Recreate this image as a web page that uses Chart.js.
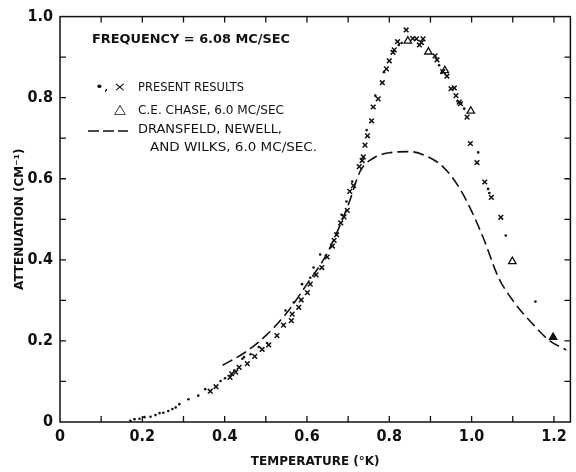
<!DOCTYPE html>
<html>
<head>
<meta charset="utf-8">
<script src="https://cdn.jsdelivr.net/npm/chart.js@4.4.1/dist/chart.umd.min.js"></script>
<style>
  body { margin: 0; background: #fff; }
  canvas { display: block; }
</style>
</head>
<body>
<canvas id="chart" width="576" height="472"></canvas>
<script>
// present results, dots
const dotT = [0.171, 0.181, 0.193, 0.205, 0.220, 0.232, 0.242, 0.251, 0.263, 0.273, 0.281, 0.290, 0.312, 0.336,
  0.353, 0.390, 0.401, 0.424, 0.443, 0.447, 0.463, 0.483, 0.503, 0.548, 0.568, 0.588, 0.608, 0.616, 0.632,
  0.684, 0.696, 0.710, 0.745, 0.766, 0.787, 0.823, 0.830, 0.921, 0.928, 0.966, 0.974, 0.982, 1.016, 1.040,
  1.043, 1.083, 1.155];
const dotA = [0.003, 0.007, 0.008, 0.012, 0.013, 0.017, 0.022, 0.023, 0.027, 0.032, 0.036, 0.044, 0.056, 0.065,
  0.081, 0.101, 0.108, 0.127, 0.156, 0.160, 0.167, 0.185, 0.195, 0.275, 0.295, 0.340, 0.356, 0.381, 0.413,
  0.511, 0.544, 0.593, 0.720, 0.805, 0.863, 0.930, 0.935, 0.880, 0.862, 0.791, 0.786, 0.773, 0.665, 0.575,
  0.565, 0.460, 0.297];

// present results, crosses
const crossT = [0.365, 0.379, 0.413, 0.417, 0.427, 0.435, 0.455, 0.473, 0.491, 0.507, 0.527, 0.543, 0.562, 0.564,
  0.580, 0.586, 0.601, 0.608, 0.622, 0.636, 0.649, 0.662, 0.666, 0.672, 0.682, 0.690, 0.698, 0.704, 0.713,
  0.727, 0.734, 0.737, 0.741, 0.747, 0.757, 0.761, 0.773, 0.783, 0.793, 0.800, 0.809, 0.812, 0.820, 0.841,
  0.857, 0.866, 0.873, 0.878, 0.882, 0.911, 0.916, 0.930, 0.940, 0.950, 0.958, 0.962, 0.970, 0.973, 0.989,
  0.997, 1.013, 1.032, 1.048, 1.071];
const crossA = [0.076, 0.087, 0.110, 0.119, 0.123, 0.135, 0.144, 0.162, 0.179, 0.190, 0.213, 0.239, 0.250, 0.266,
  0.283, 0.301, 0.319, 0.340, 0.363, 0.381, 0.407, 0.434, 0.448, 0.462, 0.491, 0.506, 0.522, 0.569, 0.583,
  0.630, 0.645, 0.654, 0.683, 0.706, 0.743, 0.777, 0.797, 0.837, 0.871, 0.891, 0.912, 0.918, 0.938, 0.967,
  0.946, 0.945, 0.930, 0.936, 0.945, 0.903, 0.893, 0.864, 0.853, 0.822, 0.824, 0.805, 0.789, 0.785, 0.752,
  0.687, 0.640, 0.592, 0.554, 0.505];

// C.E. Chase, 6.0 Mc/sec
const chaseT = [0.845, 0.895, 0.935, 0.998, 1.099, 1.198];
const chaseA = [0.940, 0.913, 0.867, 0.767, 0.396, 0.209];

// Dransfeld, Newell and Wilks, 6.0 Mc/sec
const theoryT = [0.395, 0.45, 0.50, 0.55, 0.60, 0.65, 0.70, 0.73, 0.76, 0.80, 0.85, 0.89, 0.93, 0.97, 1.00,
  1.03, 1.065, 1.10, 1.15, 1.19, 1.23];
const theoryA = [0.140, 0.172, 0.213, 0.268, 0.340, 0.418, 0.535, 0.620, 0.650, 0.664, 0.667, 0.656, 0.630,
  0.578, 0.520, 0.450, 0.357, 0.300, 0.240, 0.200, 0.178];

const xTickMarks = [0.1, 0.2, 0.3, 0.4, 0.5, 0.6, 0.7, 0.8, 0.9, 1.0, 1.1, 1.2];
const yTickMarks = [0.1, 0.2, 0.3, 0.4, 0.5, 0.6, 0.7, 0.8, 0.9];

const pairs = (xs, ys) => xs.map((x, i) => ({ x: x, y: ys[i] }));

const tickFont = { family: "'Liberation Sans Narrow', 'DejaVu Sans Condensed', sans-serif", size: 16, weight: 'bold' };
const titleFont = { family: "'DejaVu Sans', sans-serif", size: 12, weight: 'bold' };

// draw text at a fixed size, squeezed/stretched sideways to the wanted width
function fitText(ctx, text, x, y, width, size, weight) {
  ctx.save();
  ctx.font = weight + ' ' + size + "px 'DejaVu Sans', sans-serif";
  ctx.textAlign = 'left';
  ctx.textBaseline = 'middle';
  const k = width / ctx.measureText(text).width;
  ctx.translate(x, y);
  ctx.scale(k, 1);
  ctx.fillText(text, 0, 0);
  ctx.restore();
}

// frame with inward ticks + the legend block
const framePlugin = {
  id: 'frame',
  afterDraw(chart) {
    const ctx = chart.ctx;
    const a = chart.chartArea;
    const xs = chart.scales.x;
    const ys = chart.scales.y;
    ctx.save();
    ctx.strokeStyle = '#111';
    ctx.lineWidth = 1.5;
    ctx.strokeRect(a.left, a.top, a.right - a.left, a.bottom - a.top);
    ctx.lineWidth = 1.3;
    ctx.beginPath();
    xTickMarks.forEach(v => {
      const px = xs.getPixelForValue(v);
      ctx.moveTo(px, a.bottom); ctx.lineTo(px, a.bottom - 6);
      ctx.moveTo(px, a.top); ctx.lineTo(px, a.top + 6);
    });
    yTickMarks.forEach(v => {
      const py = ys.getPixelForValue(v);
      ctx.moveTo(a.left, py); ctx.lineTo(a.left + 6, py);
      ctx.moveTo(a.right, py); ctx.lineTo(a.right - 6, py);
    });
    ctx.stroke();

    ctx.fillStyle = '#111';
    fitText(ctx, 'FREQUENCY = 6.08 MC/SEC', 92, 40, 198, 13, 'bold');
    fitText(ctx, '•, ×', 95, 88, 31, 13, 'normal');
    fitText(ctx, 'PRESENT RESULTS', 138, 88, 106, 12.5, 'normal');
    fitText(ctx, '△', 114, 110, 12, 13, 'normal');
    fitText(ctx, 'C.E. CHASE, 6.0 MC/SEC', 138, 111, 146, 12.5, 'normal');
    fitText(ctx, 'DRANSFELD, NEWELL,', 138, 130, 144, 12.5, 'normal');
    fitText(ctx, 'AND WILKS, 6.0 MC/SEC.', 150, 148, 167, 12.5, 'normal');
    ctx.setLineDash([11, 4]);
    ctx.lineWidth = 1.5;
    ctx.beginPath();
    ctx.moveTo(88, 131); ctx.lineTo(128, 131);
    ctx.stroke();
    ctx.restore();
  }
};

new Chart(document.getElementById('chart').getContext('2d'), {
  type: 'scatter',
  data: {
    datasets: [
      {
        label: 'Dransfeld, Newell and Wilks',
        type: 'line',
        data: pairs(theoryT, theoryA),
        showLine: true,
        borderColor: '#111',
        borderWidth: 1.6,
        borderDash: [11, 5],
        pointRadius: 0,
        cubicInterpolationMode: 'monotone',
        fill: false
      },
      {
        label: 'Present results (dots)',
        data: pairs(dotT, dotA),
        pointStyle: 'circle',
        pointRadius: 1.3,
        backgroundColor: '#111',
        borderColor: '#111',
        borderWidth: 0
      },
      {
        label: 'Present results (crosses)',
        data: pairs(crossT, crossA),
        pointStyle: 'crossRot',
        pointRadius: 3.3,
        borderColor: '#111',
        borderWidth: 1.5
      },
      {
        label: 'C.E. Chase',
        data: pairs(chaseT, chaseA),
        pointStyle: 'triangle',
        pointRadius: 4.3,
        borderColor: '#111',
        borderWidth: 1.3,
        backgroundColor: ctx => ctx.dataIndex === chaseT.length - 1 ? '#111' : 'rgba(0,0,0,0)'
      }
    ]
  },
  options: {
    responsive: false,
    animation: false,
    devicePixelRatio: 1,
    layout: { padding: { top: 14, right: 3, left: 0, bottom: 0 } },
    plugins: { legend: { display: false }, tooltip: { enabled: false } },
    scales: {
      x: {
        type: 'linear',
        min: 0,
        max: 1.24,
        afterFit: s => { s.height = 50; },
        grid: { display: false, drawTicks: false },
        border: { display: false },
        ticks: {
          stepSize: 0.2,
          includeBounds: false,
          padding: 5,
          color: '#111',
          font: tickFont,
          maxRotation: 0,
          callback: v => v === 0 ? '0' : v.toFixed(1)
        },
        title: { display: true, text: 'TEMPERATURE (°K)', color: '#111', font: titleFont, padding: { top: 0, bottom: 3 } }
      },
      y: {
        type: 'linear',
        min: 0,
        max: 1.0,
        afterFit: s => { s.width = 60; },
        grid: { display: false, drawTicks: false },
        border: { display: false },
        ticks: {
          stepSize: 0.2,
          padding: 7,
          color: '#111',
          font: tickFont,
          callback: v => v === 0 ? '0' : v.toFixed(1)
        },
        title: { display: true, text: 'ATTENUATION (CM⁻¹)', color: '#111', font: titleFont, padding: { top: 13, bottom: 0 } }
      }
    }
  },
  plugins: [framePlugin]
});
</script>
</body>
</html>
